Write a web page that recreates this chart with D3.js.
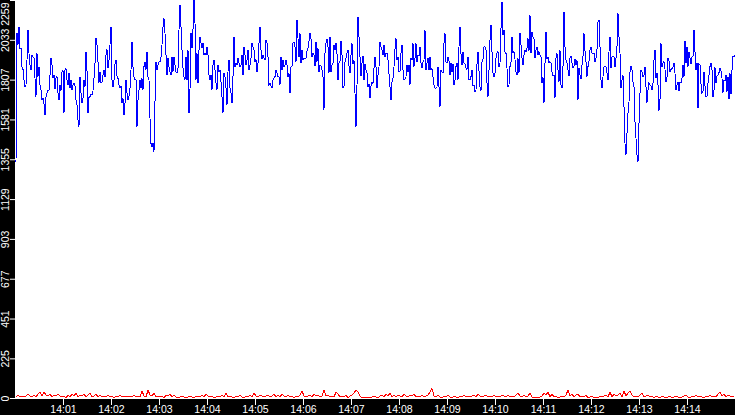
<!DOCTYPE html>
<html>
<head>
<meta charset="utf-8">
<script src="https://cdn.jsdelivr.net/npm/d3@7"></script>
<style>
  body { margin: 0; background: #fff; }
  svg { display: block; }
</style>
</head>
<body>
<svg id="chart"></svg>
<script>
// time window shown and sampling of each series (seconds)
const startTime = new Date(2000, 0, 1, 14, 0, 0);
const endTime = new Date(2000, 0, 1, 14, 15, 0);
const blueStep = 1.25;
const redStep = 2.5;

const yMax = 2259;
const yTickValues = [0, 225, 451, 677, 903, 1129, 1355, 1581, 1807, 2033, 2259];
const xTickLabels = ["14:01", "14:02", "14:03", "14:04", "14:05", "14:06", "14:07",
  "14:08", "14:09", "14:10", "14:11", "14:12", "14:13", "14:14"];

const blueValues = [
  1340,2070,2004,2108,1985,1985,1881,1865,1805,1767,
  1777,1918,2089,1956,1890,1862,1947,1937,1928,1814,
  1710,1956,1824,1881,1777,1748,1691,1701,1672,1606,
  1710,1729,1748,1748,1833,1928,1890,1814,1833,1752,
  1814,1824,1729,1691,1777,1744,1852,1862,1616,1862,
  1871,1805,1777,1843,1758,1805,1748,1775,1786,1771,
  1691,1663,1578,1540,1824,1729,1672,1701,1805,1767,
  1966,1858,1616,1707,1710,1722,1720,1744,1814,1900,
  2041,2004,1909,1790,1852,1786,1795,1833,1862,1820,
  1947,1979,1871,1918,2004,2108,1805,1767,1805,1896,
  1918,1828,1814,1777,1758,1771,1672,1701,1606,1672,
  1805,1729,1691,1714,1758,1862,2022,1881,1824,1805,
  // 14:02 - 14:04
  1805,1540,1691,1748,1805,1758,1814,1748,1881,1909,
  1862,1966,1824,1805,1587,1445,1427,1445,1398,1682,
  1909,1862,1890,1909,1909,1937,2004,2108,2155,2070,
  1947,1833,1928,1881,1852,1833,1937,1852,1937,1890,
  1852,1843,1871,2089,2231,2108,1975,1871,1824,1805,
  1937,1805,1975,1616,1748,2070,1985,2089,2259,2127,
  1805,1956,1786,1975,2051,2013,1985,2013,1947,1956,
  1947,1994,1947,1833,1805,1833,1748,1890,1918,1862,
  1786,1748,1890,1852,1862,1795,1710,1616,1843,1824,
  1758,1663,1852,1918,1758,1729,1672,1824,2051,1881,
  1900,1890,1928,1900,1881,1890,1947,1833,1994,1947,
  1890,1918,1975,1862,1890,1928,2013,1994,1975,1909,
  // 14:05 - 14:07
  1922,1852,1900,2013,2108,1975,1922,1947,1928,1918,
  2032,2013,1937,1777,1786,1771,1758,1805,1814,1824,
  1862,1843,1824,1824,1777,1937,1862,1918,1881,1890,
  1918,1890,1824,1843,1729,1881,1881,2013,2022,1994,
  1909,2145,2041,1934,2070,1900,1975,1918,1928,1928,
  1928,1971,1985,2028,2070,2036,1937,1960,1947,1884,
  2022,1909,1985,1852,1890,1884,1862,1824,1635,1956,
  2013,2036,1994,1843,2051,1852,1890,1900,2004,1975,
  2013,1952,1805,1900,1909,2028,1947,1758,1767,1909,
  1928,1956,1975,1884,1843,1947,2013,1896,1918,1729,
  1540,1777,2164,2051,1937,1828,1900,1941,1805,1896,
  1862,1843,1767,1782,1701,1771,1795,1786,1871,1934,
  // 14:07 - 14:10
  1881,1758,1833,1881,2022,1994,1975,1947,2004,1937,
  1956,1956,1918,1839,1767,1691,1795,1814,1881,1979,
  2041,1918,1937,1852,1852,1956,2004,1862,1805,1809,
  1824,1890,1852,1890,1777,1928,1918,2013,1881,1928,
  2013,1909,1947,1941,1994,1900,1871,1909,1918,2089,
  1862,1900,1928,1862,1937,1862,1871,1824,1777,1758,
  1758,1767,1881,1767,1654,1862,1852,1843,2013,2070,
  1909,1900,1937,1915,1833,1900,1852,1896,1777,1805,
  1881,1900,1805,1994,2108,1952,1890,1966,1900,1896,
  1871,1865,1937,1809,1805,1824,1862,1771,1777,1739,
  1748,1896,1966,1858,1767,1744,1909,1922,1994,1994,
  1975,1790,1710,1858,2032,2117,1966,1847,1824,1843,
  // 14:10 - 14:12
  1928,1960,1966,1881,1900,2098,2250,2060,2089,1966,
  1956,1871,1767,1777,1881,1903,2051,1960,1966,1922,
  1852,1833,1928,1843,2070,2004,1928,1890,1947,1975,
  1966,1985,2041,1971,2174,1956,2079,2047,2041,1928,
  1975,1990,1947,1966,1947,1937,1786,1820,1672,1900,
  2079,1922,1937,1903,1909,1900,1852,1828,1833,1701,
  1928,1956,1862,1795,1975,1777,1758,1877,2193,1994,
  1918,1903,1862,1828,1928,1941,1900,1871,1881,1922,
  1890,1918,1691,1871,1833,1809,1890,1941,2070,1971,
  1909,1824,1881,1909,1975,1994,1956,1956,1956,1909,
  1928,1979,2136,2145,1994,1805,1758,1824,1881,1881,
  1881,1847,1805,1966,2051,1871,1937,1937,1937,1877,
  // 14:12 - 14:15
  1928,1994,2183,2051,1956,1758,1805,1833,1654,1445,
  1379,1502,1616,1682,1852,1884,1862,1795,1767,1568,
  1474,1379,1341,1559,1729,1862,1852,1820,1833,1881,
  1767,1676,1748,1790,1777,1771,1748,1786,1918,1975,
  1814,1843,1777,1631,1691,2013,1881,1900,1909,1865,
  1795,1820,1928,1915,1852,1865,1871,1877,1900,1843,
  1748,1777,1795,1744,1795,1790,1814,1890,1824,2028,
  1900,1994,1881,1966,1928,1896,1937,1937,2089,1966,
  1862,1903,1644,1896,1890,1782,1729,1739,1852,1771,
  1710,1714,1786,1833,1881,1903,1862,1710,1748,1877,
  1786,1828,1833,1847,1871,1858,1814,1733,1805,1801,
  1833,1739,1824,1695,1843,1725,1862,1941,1937,1947
];

const redValues = [
  6,17,6,11,6,11,23,11,6,17,
  6,23,34,11,34,17,11,23,6,17,
  11,23,11,6,11,0,17,6,23,11,
  28,6,17,11,23,6,17,28,6,11,
  23,6,17,6,11,6,17,6,11,0,
  11,6,17,6,11,6,6,11,6,17,
  6,11,6,40,11,6,45,17,11,28,
  6,11,6,11,0,17,11,23,6,17,
  6,0,6,11,6,0,6,11,6,0,
  11,6,6,17,6,23,11,6,11,0,
  6,11,6,17,6,28,6,11,6,0,
  11,6,17,6,0,11,6,17,
  6,28,11,6,17,11,6,11,17,6,
  11,23,6,17,6,23,11,6,17,6,
  11,0,11,6,17,40,11,6,11,17,
  6,23,11,17,6,11,45,11,17,6,
  11,6,34,23,6,11,6,17,0,11,
  17,28,45,34,11,0,6,0,6,0,
  6,11,6,0,11,17,6,23,11,28,
  6,17,6,17,11,6,23,11,6,17,
  11,23,6,11,6,17,6,11,17,34,
  53,11,6,17,6,0,11,6,17,6,
  0,11,6,0,11,6,17,6,11,6,
  11,17,6,23,11,6,11,17,6,11,
  6,17,6,11,6,17,11,6,17,6,
  11,6,17,28,11,6,17,6,11,28,
  6,0,6,0,6,11,28,17,34,6,
  23,6,11,0,6,11,6,17,45,11,
  23,6,17,23,6,11,6,17,0,6,
  11,0,6,0,11,6,11,17,6,34,
  6,23,11,17,28,6,40,11,28,40,
  17,6,11,6,17,28,6,11,17,6,
  11,0,11,6,0,11,6,0,6,11,
  0,6,11,6,0,6,11,17,6,0,
  11,6,17,6,11,6,0,11,6,17,
  6,11,6,23,34,11,23,6,17,11,
  6,11
];

// chart dimensions
const width = 735;
const height = 415;
const margin = { top: 0, right: 0, bottom: 16, left: 15 };
const plotBottom = height - margin.bottom; // 399
const fontFamily = "Liberation Sans";
const fontSize = 10.5;

const svg = d3.select("#chart").attr("width", width).attr("height", height);

svg.append("rect").attr("width", width).attr("height", height).attr("fill", "#fff");

// scales
const x = d3.scaleTime().domain([startTime, endTime]).range([margin.left, width]);
const y = d3.scaleLinear().domain([0, yMax]).range([plotBottom - 1, 0]);

const toPoints = (values, step, offset) =>
  values.map((v, i) => ({ t: new Date(+startTime + (offset + i * step) * 1000), v }));

const line = d3.line()
  .x((d) => x(d.t))
  .y((d) => y(d.v));

svg.append("path")
  .datum(toPoints(blueValues, blueStep, blueStep))
  .attr("fill", "none")
  .attr("stroke", "#0000ff")
  .attr("stroke-width", 1)
  .attr("shape-rendering", "crispEdges")
  .attr("d", line);

svg.append("path")
  .datum(toPoints(redValues, redStep, blueStep))
  .attr("fill", "none")
  .attr("stroke", "#ff0000")
  .attr("stroke-width", 1)
  .attr("shape-rendering", "crispEdges")
  .attr("d", line);

// black axis strips
svg.append("rect").attr("x", 0).attr("y", 0)
  .attr("width", margin.left).attr("height", height).attr("fill", "#000");
svg.append("rect").attr("x", 0).attr("y", plotBottom)
  .attr("width", width).attr("height", margin.bottom).attr("fill", "#000");

// y axis, rotated labels
const gy = svg.append("g")
  .attr("transform", "translate(" + margin.left + ",0)")
  .call(d3.axisLeft(y).tickValues(yTickValues).tickSize(5).tickFormat(d3.format("d")));
gy.attr("font-family", fontFamily).attr("font-size", fontSize);
gy.select(".domain").remove();
gy.selectAll(".tick line").attr("stroke", "#fff");
gy.selectAll(".tick text")
  .attr("fill", "#fff")
  .attr("transform", "rotate(-90)")
  .attr("x", 0)
  .attr("y", -6)
  .attr("dy", null)
  .attr("text-anchor", "middle");
// keep the top label inside the window
gy.selectAll(".tick text").filter((d) => d === yMax)
  .attr("text-anchor", "end")
  .attr("x", -2);

// x axis
const xTicks = xTickLabels.map((s) => {
  const [h, m] = s.split(":");
  return new Date(2000, 0, 1, +h, +m, 0);
});
const gx = svg.append("g")
  .attr("transform", "translate(0," + plotBottom + ")")
  .call(d3.axisBottom(x).tickValues(xTicks).tickSize(6).tickPadding(1)
    .tickFormat(d3.timeFormat("%H:%M")));
gx.attr("font-family", fontFamily).attr("font-size", fontSize);
gx.select(".domain").remove();
gx.selectAll(".tick line").attr("stroke", "#fff");
gx.selectAll(".tick text").attr("fill", "#fff");
</script>
</body>
</html>
